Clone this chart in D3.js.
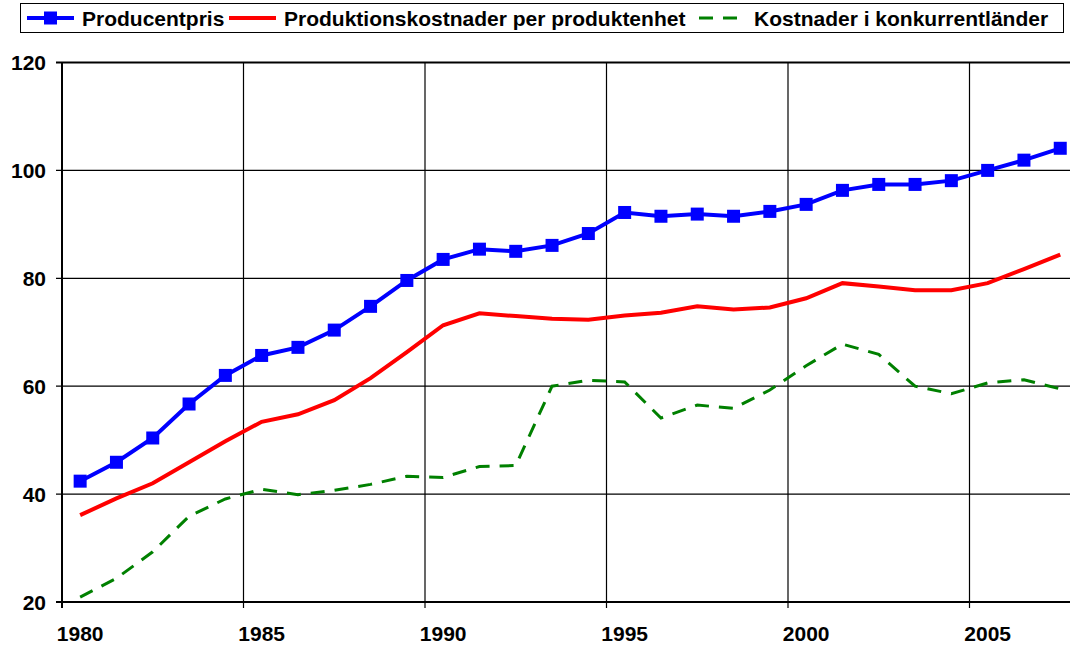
<!DOCTYPE html>
<html>
<head>
<meta charset="utf-8">
<script src="https://cdnjs.cloudflare.com/ajax/libs/d3/7.8.5/d3.min.js"></script>
<style>
  body { margin: 0; background: #fff; }
  text { font-family: "Liberation Sans", Arial, sans-serif; font-weight: bold; }
</style>
</head>
<body>
<svg id="chart" width="1070" height="647"></svg>
<script>
var years = d3.range(1980, 2008).map(String);
var yTicks = [20, 40, 60, 80, 100, 120];
var xLabels = ['1980', '1985', '1990', '1995', '2000', '2005'];

var producentpris = [42.4, 45.9, 50.4, 56.7, 62.0, 65.7, 67.2, 70.4, 74.8, 79.6,
	83.5, 85.4, 85.0, 86.1, 88.3, 92.2, 91.5, 91.9, 91.5, 92.4,
	93.7, 96.3, 97.4, 97.4, 98.1, 100.0, 101.9, 104.1];
var prodkostnad = [36.1, 39.2, 42.0, 45.9, 49.8, 53.4, 54.8, 57.4, 61.5, 66.3,
	71.3, 73.5, 73.0, 72.5, 72.3, 73.1, 73.6, 74.8, 74.2, 74.6,
	76.3, 79.1, 78.5, 77.8, 77.8, 79.1, 81.7, 84.4];
var konkurrent = [20.9, 24.4, 29.3, 35.9, 39.1, 40.9, 39.9, 40.7, 41.8, 43.3,
	43.1, 45.1, 45.3, 60.0, 61.1, 60.8, 54.1, 56.5, 55.9, 59.3,
	63.8, 67.8, 65.9, 60.0, 58.6, 60.6, 61.2, 59.5];

var svg = d3.select('#chart');

var plotLeft = 62, plotTop = 62.5, plotBottom = 602;
var x = d3.scaleBand().domain(years).range([plotLeft, plotLeft + 28 * 36.3]);
var y = d3.scaleLinear().domain([20, 120]).range([plotBottom, plotTop]);
var cx = function (d, i) { return x(years[i]) + x.bandwidth() / 2; };

// horizontal grid
svg.selectAll('.hgrid').data(yTicks).enter()
	.append('line')
	.attr('class', 'hgrid')
	.attr('x1', plotLeft - 6).attr('x2', 1070)
	.attr('y1', function (d) { return y(d); })
	.attr('y2', function (d) { return y(d); })
	.attr('stroke', '#000')
	.attr('stroke-width', function (d) { return d == 20 || d == 120 ? 2 : 1.2; });

// vertical grid at category boundaries every 5 years
var vBounds = [5, 10, 15, 20, 25];
svg.selectAll('.vgrid').data(vBounds).enter()
	.append('line')
	.attr('class', 'vgrid')
	.attr('x1', function (d) { return x(years[d]); })
	.attr('x2', function (d) { return x(years[d]); })
	.attr('y1', plotTop).attr('y2', plotBottom + 6)
	.attr('stroke', '#000')
	.attr('stroke-width', 1.2);

// y axis line
svg.append('line')
	.attr('x1', plotLeft).attr('x2', plotLeft)
	.attr('y1', plotTop).attr('y2', plotBottom + 6)
	.attr('stroke', '#000').attr('stroke-width', 2);

// y tick labels
svg.selectAll('.ylab').data(yTicks).enter()
	.append('text')
	.attr('class', 'ylab')
	.attr('x', 46)
	.attr('y', function (d) { return y(d) + 7.5; })
	.attr('text-anchor', 'end')
	.attr('font-size', '21px')
	.text(function (d) { return d; });

// x tick labels
svg.selectAll('.xlab').data(xLabels).enter()
	.append('text')
	.attr('class', 'xlab')
	.attr('x', function (d) { return x(d) + x.bandwidth() / 2; })
	.attr('y', 641)
	.attr('text-anchor', 'middle')
	.attr('font-size', '21px')
	.text(function (d) { return d; });

var line = d3.line().x(cx).y(function (d) { return y(d); });

svg.append('path')
	.datum(konkurrent)
	.attr('d', line)
	.attr('fill', 'none')
	.attr('stroke', '#008000')
	.attr('stroke-width', 3)
	.attr('stroke-dasharray', '14,10');

svg.append('path')
	.datum(prodkostnad)
	.attr('d', line)
	.attr('fill', 'none')
	.attr('stroke', '#FF0000')
	.attr('stroke-width', 4);

svg.append('path')
	.datum(producentpris)
	.attr('d', line)
	.attr('fill', 'none')
	.attr('stroke', '#0000FF')
	.attr('stroke-width', 4);

svg.selectAll('.mark').data(producentpris).enter()
	.append('rect')
	.attr('class', 'mark')
	.attr('x', function (d, i) { return cx(d, i) - 6.5; })
	.attr('y', function (d) { return y(d) - 6.5; })
	.attr('width', 13).attr('height', 13)
	.attr('fill', '#0000FF');

// legend
svg.append('rect')
	.attr('x', 20.5).attr('y', 3.5)
	.attr('width', 1043).attr('height', 29)
	.attr('fill', '#fff').attr('stroke', '#000').attr('stroke-width', 1);

var legend = [
	{ name: 'Producentpris', color: '#0000FF', x0: 27, dash: null, w: 4, mark: true },
	{ name: 'Produktionskostnader per produktenhet', color: '#FF0000', x0: 229, dash: null, w: 4, mark: false },
	{ name: 'Kostnader i konkurrentländer', color: '#008000', x0: 699, dash: '14,10', w: 3, mark: false }
];
var lg = svg.selectAll('.leg').data(legend).enter().append('g').attr('class', 'leg');
lg.append('line')
	.attr('x1', function (d) { return d.x0; })
	.attr('x2', function (d) { return d.x0 + 47; })
	.attr('y1', 18).attr('y2', 18)
	.attr('stroke', function (d) { return d.color; })
	.attr('stroke-width', function (d) { return d.w; })
	.attr('stroke-dasharray', function (d) { return d.dash; });
lg.filter(function (d) { return d.mark; }).append('rect')
	.attr('x', function (d) { return d.x0 + 17; })
	.attr('y', 11.5).attr('width', 13).attr('height', 13)
	.attr('fill', function (d) { return d.color; });
lg.append('text')
	.attr('x', function (d) { return d.x0 + 55; })
	.attr('y', 26)
	.attr('font-size', '21px')
	.text(function (d) { return d.name; });
</script>
</body>
</html>
